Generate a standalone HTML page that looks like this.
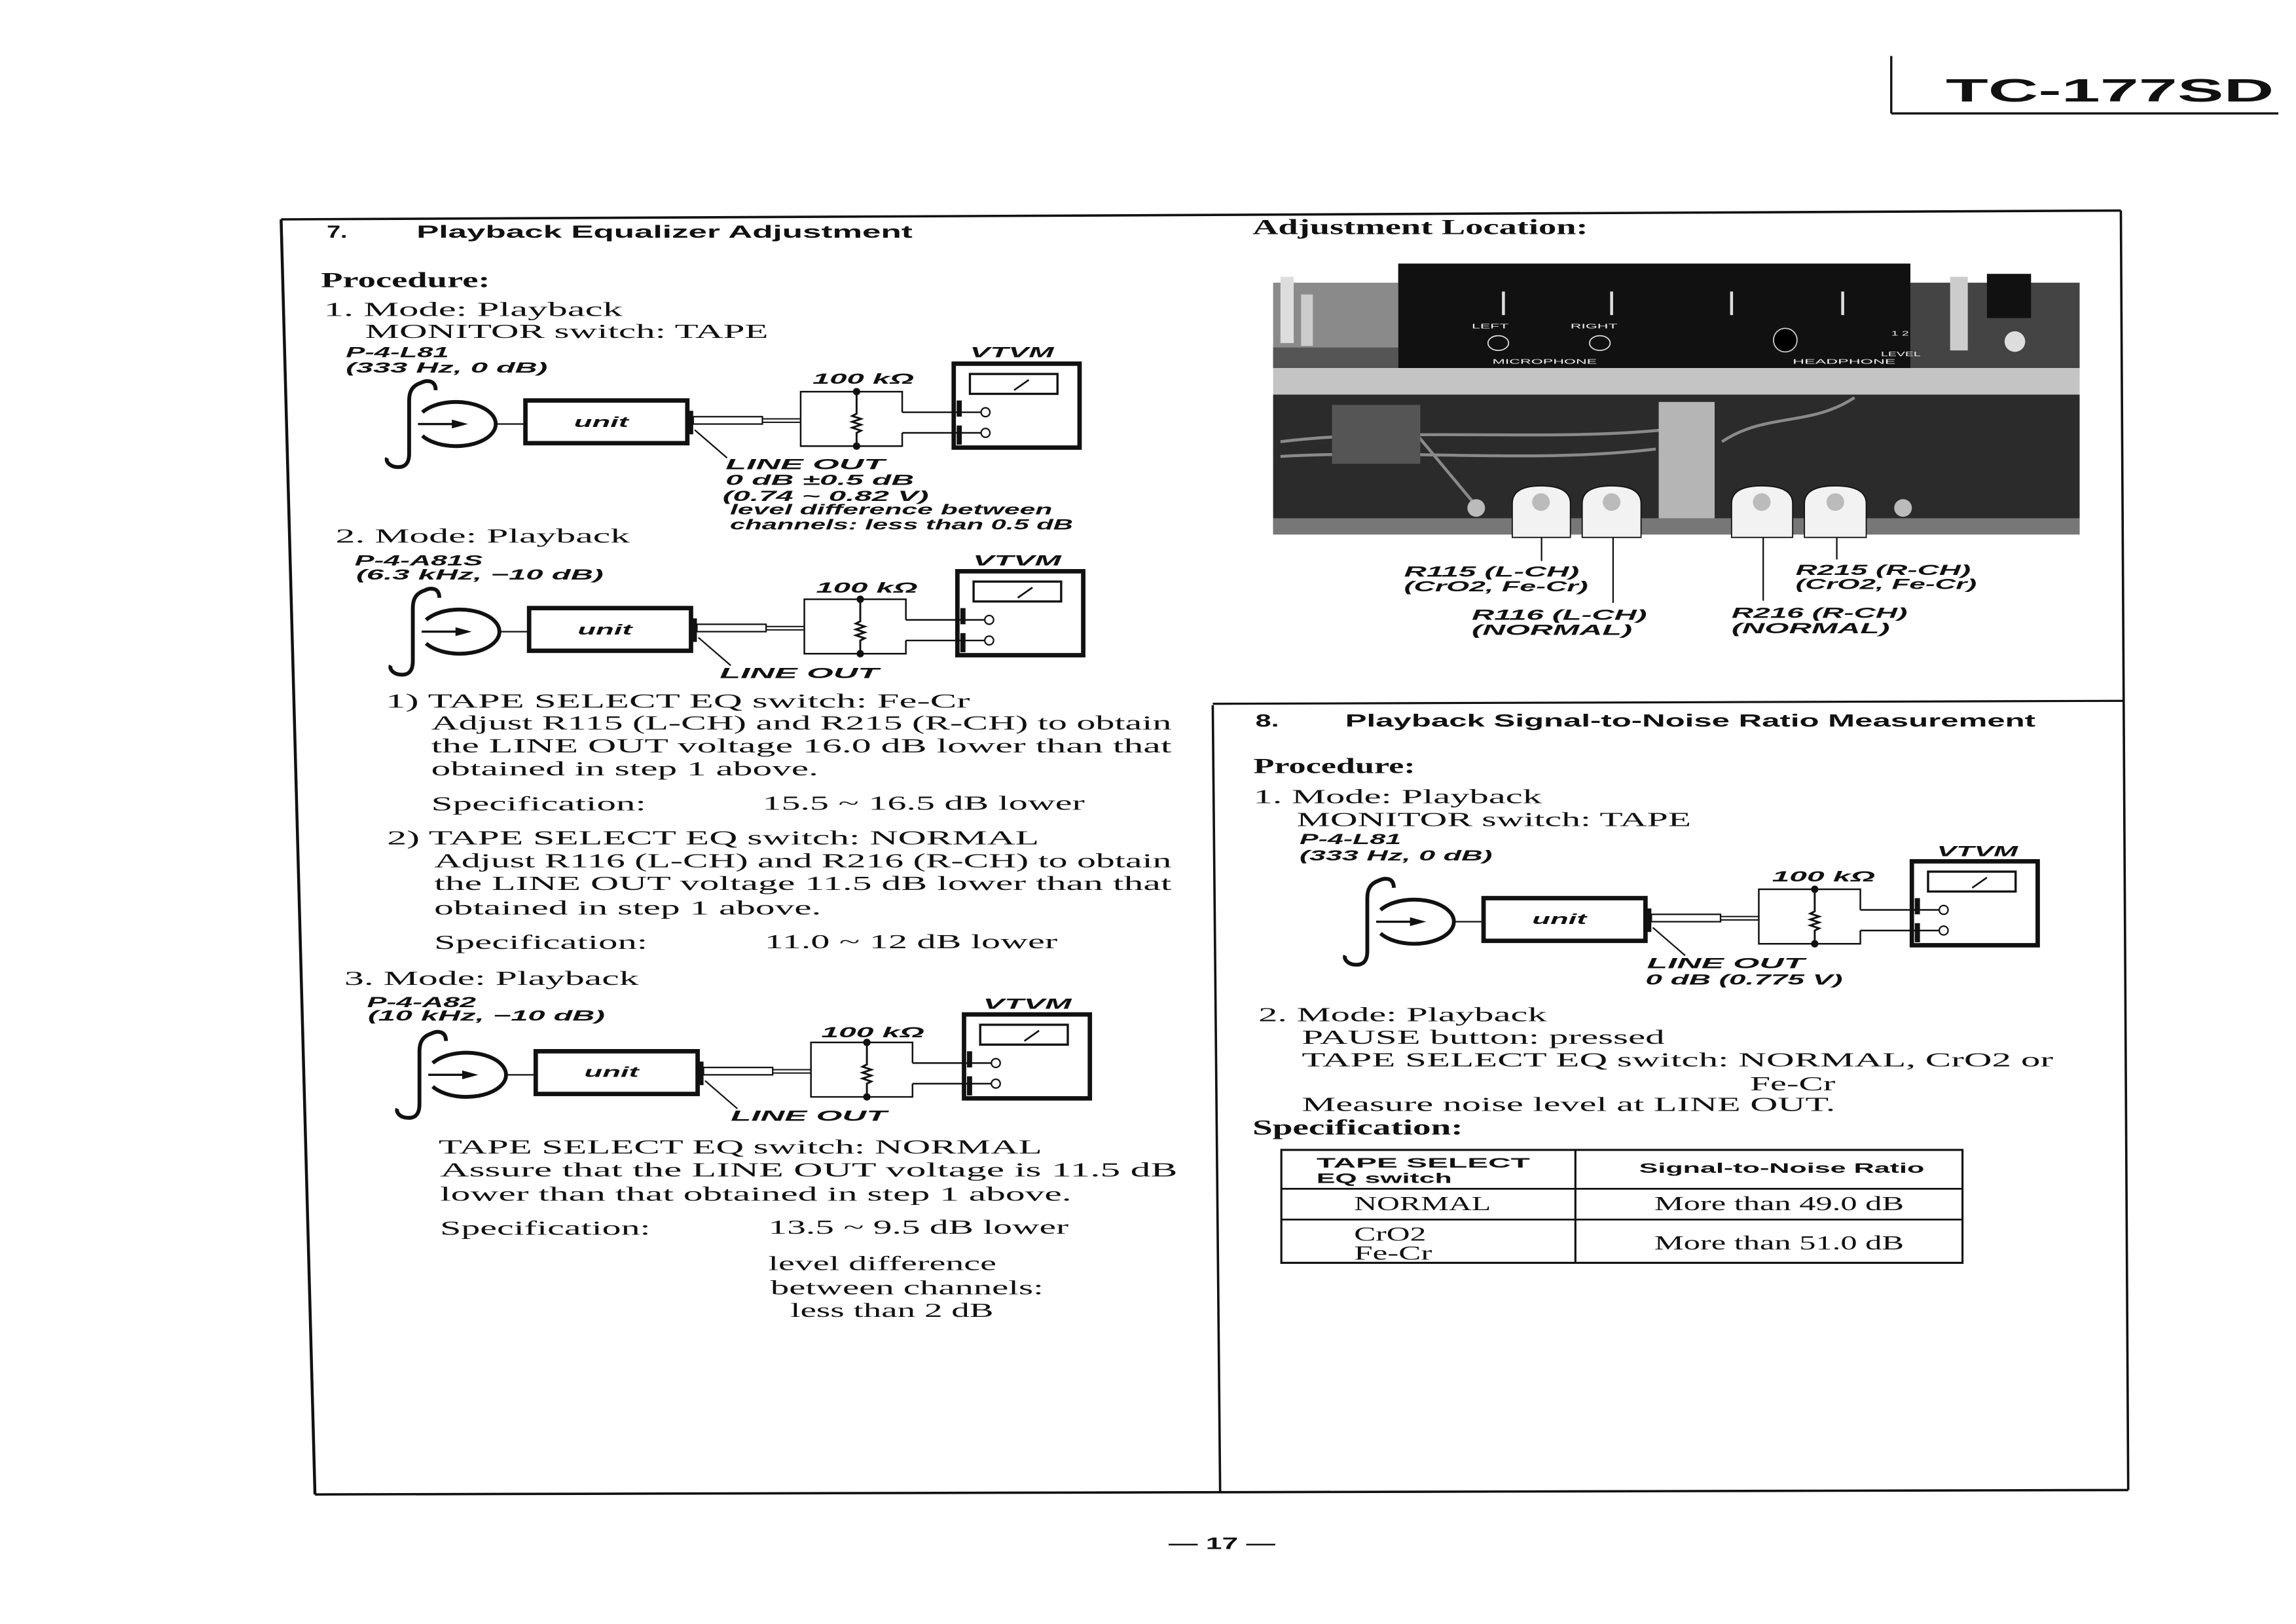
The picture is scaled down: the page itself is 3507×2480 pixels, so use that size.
<!DOCTYPE html>
<html><head><meta charset="utf-8"><style>
html,body{margin:0;padding:0;background:#fff;}
svg{display:block;}
.s{font-family:"Liberation Serif",serif;font-size:13.5px;fill:#111;}
.sb{font-family:"Liberation Serif",serif;font-size:14.5px;font-weight:bold;fill:#111;}
.i{font-family:"Liberation Sans",sans-serif;font-size:10px;font-style:italic;font-weight:bold;fill:#111;}
.t{font-family:"Liberation Sans",sans-serif;font-size:12px;font-weight:bold;fill:#111;}
.th{font-family:"Liberation Sans",sans-serif;font-size:9.5px;font-weight:bold;fill:#111;}
.pl{font-family:"Liberation Sans",sans-serif;font-size:4.5px;fill:#eee;}
</style></head><body>
<svg width="3507" height="2480" viewBox="0 0 1560 1103" preserveAspectRatio="none" xmlns="http://www.w3.org/2000/svg">
<defs>
<g id="d" fill="none" stroke="#111">
 <path d="M296,265 C296,258 290,258 286,260 C280,262 278,266 278,272 L278,308 C278,316 274,318 268,317 C264,316 262,313 263,311" stroke-width="2.6"/>
 <path d="M287,280 A27,15 0 1 1 287,296" stroke-width="2.6"/>
 <line x1="284" y1="288" x2="309" y2="288" stroke-width="1.5"/>
 <polygon points="318,288 307,285 307,291" fill="#111" stroke="none"/>
 <line x1="337" y1="288" x2="357" y2="288" stroke-width="1"/>
 <rect x="357" y="272" width="110" height="29" stroke-width="3" fill="#fff"/>
 <rect x="467" y="279" width="4" height="16" fill="#111" stroke="none"/>
 <rect x="471" y="283" width="47" height="5" stroke-width="1" fill="#fff"/>
 <line x1="518" y1="284.5" x2="544" y2="284.5" stroke-width="0.9"/>
 <line x1="518" y1="286.8" x2="544" y2="286.8" stroke-width="0.9"/>
 <line x1="472" y1="292" x2="494" y2="311" stroke-width="1"/>
 <polyline points="613,280 613,266 544,266 544,303 613,303 613,294" stroke-width="1.1"/>
 <polyline points="582,266 582,281 579,282.5 585,284.5 579,286.5 585,288.5 579,290.5 585,292.5 582,294 582,303" stroke-width="1.3"/>
 <circle cx="582" cy="266" r="2" fill="#111"/>
 <circle cx="582" cy="303" r="2" fill="#111"/>
 <line x1="613" y1="280" x2="666.5" y2="280" stroke-width="1.1"/>
 <line x1="613" y1="294" x2="666.5" y2="294" stroke-width="1.1"/>
 <circle cx="669.6" cy="280" r="3" fill="#fff" stroke-width="1"/>
 <circle cx="669.6" cy="294" r="3" fill="#fff" stroke-width="1"/>
 <rect x="648" y="247" width="85.5" height="57" stroke-width="3"/>
 <rect x="650" y="272" width="3.5" height="11" fill="#111" stroke="none"/>
 <rect x="650" y="289" width="3.5" height="13" fill="#111" stroke="none"/>
 <rect x="659" y="254" width="59.5" height="13.5" stroke-width="1.5"/>
 <line x1="689" y1="265" x2="699" y2="258" stroke-width="1.2"/>
</g>
</defs>
<rect width="1560" height="1103" fill="#fff"/>

<!-- header -->
<line x1="1285" y1="38" x2="1285" y2="77" stroke="#111" stroke-width="1.5"/>
<line x1="1285" y1="77" x2="1548" y2="77" stroke="#111" stroke-width="1.5"/>
<text x="1322" y="69" textLength="223" lengthAdjust="spacingAndGlyphs" style="font-family:'Liberation Sans',sans-serif;font-weight:bold;font-size:22px;fill:#111">TC-177SD</text>

<!-- borders -->
<g stroke="#111" fill="none">
<line x1="191" y1="149" x2="1441" y2="143" stroke-width="1.6"/>
<line x1="191" y1="149" x2="214" y2="1015" stroke-width="2"/>
<line x1="214" y1="1015" x2="1446" y2="1012" stroke-width="1.6"/>
<line x1="1441" y1="143" x2="1446" y2="1012" stroke-width="1.6"/>
<line x1="824" y1="479" x2="829" y2="1013" stroke-width="1.6"/>
<line x1="824" y1="478" x2="1443" y2="476" stroke-width="1.4"/>
</g>

<!-- section 7 -->
<text class="t" x="222" y="161.5" textLength="14" lengthAdjust="spacingAndGlyphs">7.</text>
<text class="t" x="283" y="161.5" textLength="337" lengthAdjust="spacingAndGlyphs">Playback Equalizer Adjustment</text>
<text class="sb" x="218" y="195" textLength="115" lengthAdjust="spacingAndGlyphs">Procedure:</text>
<text class="s" x="220" y="214.5" textLength="203" lengthAdjust="spacingAndGlyphs">1. Mode: Playback</text>
<text class="s" x="248" y="229.5" textLength="274" lengthAdjust="spacingAndGlyphs">MONITOR switch: TAPE</text>

<use href="#d"/>
<use href="#d" transform="translate(2.5,141)"/>
<use href="#d" transform="translate(7,442)"/>
<use href="#d" transform="translate(651,338)"/>

<!-- diag1 labels -->
<text class="i" x="235" y="242.6" textLength="70" lengthAdjust="spacingAndGlyphs">P-4-L81</text>
<text class="i" x="235" y="253" textLength="137" lengthAdjust="spacingAndGlyphs">(333 Hz, 0 dB)</text>
<text class="i" x="659" y="242.6" textLength="57" lengthAdjust="spacingAndGlyphs">VTVM</text>
<text class="i" x="552" y="260.6" textLength="69" lengthAdjust="spacingAndGlyphs">100 kΩ</text>
<text class="i" x="390" y="290" textLength="37" lengthAdjust="spacingAndGlyphs">unit</text>
<text class="i" x="493" y="318.6" textLength="108" lengthAdjust="spacingAndGlyphs">LINE  OUT</text>
<text class="i" x="493" y="329.4" textLength="128" lengthAdjust="spacingAndGlyphs">0 dB ±0.5 dB</text>
<text class="i" x="491" y="340.3" textLength="140" lengthAdjust="spacingAndGlyphs">(0.74 ~ 0.82 V)</text>
<text class="i" x="496" y="349.3" textLength="219" lengthAdjust="spacingAndGlyphs">level difference between</text>
<text class="i" x="496" y="359.6" textLength="233" lengthAdjust="spacingAndGlyphs">channels: less than 0.5 dB</text>

<text class="s" x="228" y="368.5" textLength="200" lengthAdjust="spacingAndGlyphs">2. Mode: Playback</text>
<!-- diag2 labels -->
<text class="i" x="241" y="384" textLength="87" lengthAdjust="spacingAndGlyphs">P-4-A81S</text>
<text class="i" x="242" y="393.6" textLength="168" lengthAdjust="spacingAndGlyphs">(6.3 kHz, −10 dB)</text>
<text class="i" x="661" y="384" textLength="60" lengthAdjust="spacingAndGlyphs">VTVM</text>
<text class="i" x="554.5" y="402.6" textLength="69" lengthAdjust="spacingAndGlyphs">100 kΩ</text>
<text class="i" x="392.5" y="431" textLength="37" lengthAdjust="spacingAndGlyphs">unit</text>
<text class="i" x="489" y="460.6" textLength="108" lengthAdjust="spacingAndGlyphs">LINE  OUT</text>

<text class="s" x="262" y="480.5" textLength="397" lengthAdjust="spacingAndGlyphs">1) TAPE  SELECT  EQ switch: Fe-Cr</text>
<text class="s" x="293" y="495.5" textLength="503" lengthAdjust="spacingAndGlyphs">Adjust R115 (L-CH) and R215 (R-CH) to obtain</text>
<text class="s" x="293" y="511" textLength="503" lengthAdjust="spacingAndGlyphs">the LINE  OUT voltage 16.0 dB lower than that</text>
<text class="s" x="293" y="526.5" textLength="263" lengthAdjust="spacingAndGlyphs">obtained in step 1 above.</text>
<text class="s" x="293" y="550.5" textLength="146" lengthAdjust="spacingAndGlyphs">Specification:</text>
<text class="s" x="518" y="550" textLength="219" lengthAdjust="spacingAndGlyphs">15.5 ~ 16.5 dB lower</text>
<text class="s" x="263" y="573.5" textLength="443" lengthAdjust="spacingAndGlyphs">2) TAPE  SELECT  EQ switch: NORMAL</text>
<text class="s" x="295" y="589" textLength="501" lengthAdjust="spacingAndGlyphs">Adjust R116 (L-CH) and R216 (R-CH) to obtain</text>
<text class="s" x="295" y="604.5" textLength="501" lengthAdjust="spacingAndGlyphs">the LINE OUT voltage 11.5 dB lower than that</text>
<text class="s" x="295" y="621" textLength="263" lengthAdjust="spacingAndGlyphs">obtained in step 1 above.</text>
<text class="s" x="295" y="644.5" textLength="145" lengthAdjust="spacingAndGlyphs">Specification:</text>
<text class="s" x="519.5" y="644" textLength="199" lengthAdjust="spacingAndGlyphs">11.0 ~ 12 dB lower</text>
<text class="s" x="234" y="669" textLength="200" lengthAdjust="spacingAndGlyphs">3. Mode: Playback</text>

<!-- diag3 labels -->
<text class="i" x="249.4" y="684" textLength="74" lengthAdjust="spacingAndGlyphs">P-4-A82</text>
<text class="i" x="250" y="693.2" textLength="161" lengthAdjust="spacingAndGlyphs">(10 kHz, −10 dB)</text>
<text class="i" x="668" y="685.2" textLength="60" lengthAdjust="spacingAndGlyphs">VTVM</text>
<text class="i" x="558" y="704.6" textLength="70" lengthAdjust="spacingAndGlyphs">100 kΩ</text>
<text class="i" x="397" y="731.5" textLength="37" lengthAdjust="spacingAndGlyphs">unit</text>
<text class="i" x="496.5" y="761.2" textLength="106" lengthAdjust="spacingAndGlyphs">LINE  OUT</text>

<text class="s" x="298" y="783.5" textLength="410" lengthAdjust="spacingAndGlyphs">TAPE  SELECT  EQ switch: NORMAL</text>
<text class="s" x="299" y="799" textLength="501" lengthAdjust="spacingAndGlyphs">Assure that the LINE OUT voltage is 11.5 dB</text>
<text class="s" x="299" y="815.5" textLength="429" lengthAdjust="spacingAndGlyphs">lower than that obtained in step 1 above.</text>
<text class="s" x="299" y="838.5" textLength="143" lengthAdjust="spacingAndGlyphs">Specification:</text>
<text class="s" x="522" y="838" textLength="204" lengthAdjust="spacingAndGlyphs">13.5 ~ 9.5 dB lower</text>
<text class="s" x="522" y="862.5" textLength="155" lengthAdjust="spacingAndGlyphs">level difference</text>
<text class="s" x="523.5" y="879" textLength="185.5" lengthAdjust="spacingAndGlyphs">between channels:</text>
<text class="s" x="537" y="894.5" textLength="138" lengthAdjust="spacingAndGlyphs">less than 2 dB</text>

<!-- Adjustment location -->
<text class="sb" x="851" y="159" textLength="228" lengthAdjust="spacingAndGlyphs">Adjustment Location:</text>
<g>
 <rect x="865" y="192" width="85" height="58" fill="#8a8a8a"/>
 <rect x="870" y="188" width="9" height="45" fill="#ddd"/>
 <rect x="884" y="200" width="8" height="35" fill="#ccc"/>
 <rect x="865" y="236" width="85" height="14" fill="#555"/>
 <rect x="950" y="179" width="348" height="71" fill="#111"/>
 <rect x="1298" y="192" width="115" height="58" fill="#444"/>
 <rect x="1325" y="188" width="12" height="50" fill="#ccc"/>
 <rect x="1350" y="186" width="30" height="30" fill="#111"/>
 <rect x="1020.5" y="198" width="2" height="16" fill="#ddd"/>
 <rect x="1094" y="198" width="2" height="16" fill="#ddd"/>
 <rect x="1175.5" y="198" width="2" height="16" fill="#ddd"/>
 <rect x="1251" y="198" width="2" height="16" fill="#ddd"/>
 <text class="pl" x="1000" y="223" textLength="25" lengthAdjust="spacingAndGlyphs">LEFT</text>
 <text class="pl" x="1067" y="223" textLength="32" lengthAdjust="spacingAndGlyphs">RIGHT</text>
 <text class="pl" x="1014" y="247" textLength="71" lengthAdjust="spacingAndGlyphs">MICROPHONE</text>
 <text class="pl" x="1218" y="247" textLength="70" lengthAdjust="spacingAndGlyphs">HEADPHONE</text>
 <text class="pl" x="1278" y="242" textLength="27" lengthAdjust="spacingAndGlyphs">LEVEL</text>
 <text class="pl" x="1285" y="228" textLength="12" lengthAdjust="spacingAndGlyphs">1 2</text>
 <ellipse cx="1018" cy="233" rx="7" ry="5" fill="none" stroke="#ddd" stroke-width="0.8"/>
 <ellipse cx="1087" cy="233" rx="7" ry="5" fill="none" stroke="#ddd" stroke-width="0.8"/>
 <circle cx="1213" cy="231" r="8" fill="#000" stroke="#ccc" stroke-width="0.8"/>
 <circle cx="1369" cy="232" r="7" fill="#ddd"/>
 <rect x="865" y="250" width="548" height="18" fill="#c4c4c4"/>
 <rect x="865" y="268" width="548" height="95" fill="#2b2b2b"/>
 <path d="M870,300 C950,290 1050,300 1130,292 M870,310 C960,305 1040,315 1125,305 M950,280 L1000,340 M1170,300 C1200,280 1230,290 1260,270" stroke="#8a8a8a" stroke-width="2" fill="none"/>
 <rect x="905" y="275" width="60" height="40" fill="#555"/>
 <rect x="1127" y="273" width="38" height="80" fill="#b5b5b5"/>
 <rect x="865" y="352" width="548" height="11" fill="#777"/>
 <g fill="#f2f2f2" stroke="#111" stroke-width="0.8">
  <path d="M1027.5,365 L1027.5,342 Q1027.5,330 1047,330 Q1067,330 1067,342 L1067,365 Z"/>
  <path d="M1075,365 L1075,342 Q1075,330 1095,330 Q1115,330 1115,342 L1115,365 Z"/>
  <path d="M1176.5,365 L1176.5,342 Q1176.5,330 1197,330 Q1218,330 1218,342 L1218,365 Z"/>
  <path d="M1226,365 L1226,342 Q1226,330 1247,330 Q1268,330 1268,342 L1268,365 Z"/>
 </g>
 <g fill="#bbb"><circle cx="1047" cy="341" r="6"/><circle cx="1095" cy="341" r="6"/><circle cx="1197" cy="341" r="6"/><circle cx="1247" cy="341" r="6"/><circle cx="1003" cy="345" r="6"/><circle cx="1293" cy="345" r="6"/></g>
</g>
<g stroke="#111" stroke-width="1">
 <line x1="1047.4" y1="365" x2="1047.4" y2="381"/>
 <line x1="1096" y1="365" x2="1096" y2="409.5"/>
 <line x1="1198" y1="365" x2="1198" y2="408"/>
 <line x1="1248" y1="365" x2="1248" y2="380"/>
</g>
<text class="i" x="954" y="391.6" textLength="119" lengthAdjust="spacingAndGlyphs">R115 (L-CH)</text>
<text class="i" x="954" y="401.6" textLength="125" lengthAdjust="spacingAndGlyphs">(CrO2, Fe-Cr)</text>
<text class="i" x="1000" y="421" textLength="119" lengthAdjust="spacingAndGlyphs">R116 (L-CH)</text>
<text class="i" x="1000" y="431.2" textLength="109" lengthAdjust="spacingAndGlyphs">(NORMAL)</text>
<text class="i" x="1220" y="390.4" textLength="119" lengthAdjust="spacingAndGlyphs">R215 (R-CH)</text>
<text class="i" x="1220" y="400.1" textLength="123" lengthAdjust="spacingAndGlyphs">(CrO2, Fe-Cr)</text>
<text class="i" x="1176.5" y="419.6" textLength="119.5" lengthAdjust="spacingAndGlyphs">R216 (R-CH)</text>
<text class="i" x="1176.5" y="430.1" textLength="107.5" lengthAdjust="spacingAndGlyphs">(NORMAL)</text>

<!-- section 8 -->
<text class="t" x="853" y="493.5" textLength="16" lengthAdjust="spacingAndGlyphs">8.</text>
<text class="t" x="914" y="493.5" textLength="469" lengthAdjust="spacingAndGlyphs">Playback Signal-to-Noise Ratio Measurement</text>
<text class="sb" x="851.6" y="525" textLength="110" lengthAdjust="spacingAndGlyphs">Procedure:</text>
<text class="s" x="851.6" y="545.5" textLength="196" lengthAdjust="spacingAndGlyphs">1. Mode: Playback</text>
<text class="s" x="881" y="561" textLength="268" lengthAdjust="spacingAndGlyphs">MONITOR switch: TAPE</text>
<text class="i" x="883" y="573.4" textLength="69" lengthAdjust="spacingAndGlyphs">P-4-L81</text>
<text class="i" x="883" y="584.4" textLength="131" lengthAdjust="spacingAndGlyphs">(333 Hz, 0 dB)</text>
<text class="i" x="1316" y="581.6" textLength="55" lengthAdjust="spacingAndGlyphs">VTVM</text>
<text class="i" x="1204" y="598.6" textLength="70" lengthAdjust="spacingAndGlyphs">100 kΩ</text>
<text class="i" x="1041" y="627.5" textLength="37" lengthAdjust="spacingAndGlyphs">unit</text>
<text class="i" x="1119" y="657.6" textLength="107" lengthAdjust="spacingAndGlyphs">LINE  OUT</text>
<text class="i" x="1118" y="668.6" textLength="134" lengthAdjust="spacingAndGlyphs">0 dB (0.775 V)</text>

<text class="s" x="855" y="693.5" textLength="196" lengthAdjust="spacingAndGlyphs">2. Mode: Playback</text>
<text class="s" x="884.5" y="709" textLength="246.5" lengthAdjust="spacingAndGlyphs">PAUSE button: pressed</text>
<text class="s" x="884.5" y="724.3" textLength="510.5" lengthAdjust="spacingAndGlyphs">TAPE  SELECT  EQ switch: NORMAL, CrO2 or</text>
<text class="s" x="1189" y="740.5" textLength="58" lengthAdjust="spacingAndGlyphs">Fe-Cr</text>
<text class="s" x="884.5" y="754.5" textLength="362.5" lengthAdjust="spacingAndGlyphs">Measure noise level at LINE  OUT.</text>
<text class="sb" x="851" y="770.5" textLength="143" lengthAdjust="spacingAndGlyphs">Specification:</text>

<g stroke="#111" fill="none">
 <rect x="870.6" y="781" width="462.8" height="76.7" stroke-width="1.4"/>
 <line x1="1070.4" y1="781" x2="1070.4" y2="857.7" stroke-width="1.4"/>
 <line x1="870.6" y1="807.4" x2="1333.4" y2="807.4" stroke-width="1.2"/>
 <line x1="870.6" y1="828.3" x2="1333.4" y2="828.3" stroke-width="1.2"/>
</g>
<text class="th" x="894.5" y="793" textLength="145" lengthAdjust="spacingAndGlyphs">TAPE  SELECT</text>
<text class="th" x="894.5" y="803.5" textLength="92" lengthAdjust="spacingAndGlyphs">EQ switch</text>
<text class="th" x="1113.7" y="796.5" textLength="193.8" lengthAdjust="spacingAndGlyphs">Signal-to-Noise Ratio</text>
<text class="s" x="920" y="822" textLength="93" lengthAdjust="spacingAndGlyphs">NORMAL</text>
<text class="s" x="1124" y="822" textLength="169.6" lengthAdjust="spacingAndGlyphs">More than 49.0 dB</text>
<text class="s" x="920" y="842.5" textLength="49" lengthAdjust="spacingAndGlyphs">CrO2</text>
<text class="s" x="920" y="855.5" textLength="53" lengthAdjust="spacingAndGlyphs">Fe-Cr</text>
<text class="s" x="1124" y="848.5" textLength="169.6" lengthAdjust="spacingAndGlyphs">More than 51.0 dB</text>

<!-- page number -->
<text x="794" y="1052" textLength="72.5" lengthAdjust="spacingAndGlyphs" style="font-family:'Liberation Sans',sans-serif;font-size:11px;font-weight:bold;fill:#111">— 17 —</text>
</svg>
</body></html>
